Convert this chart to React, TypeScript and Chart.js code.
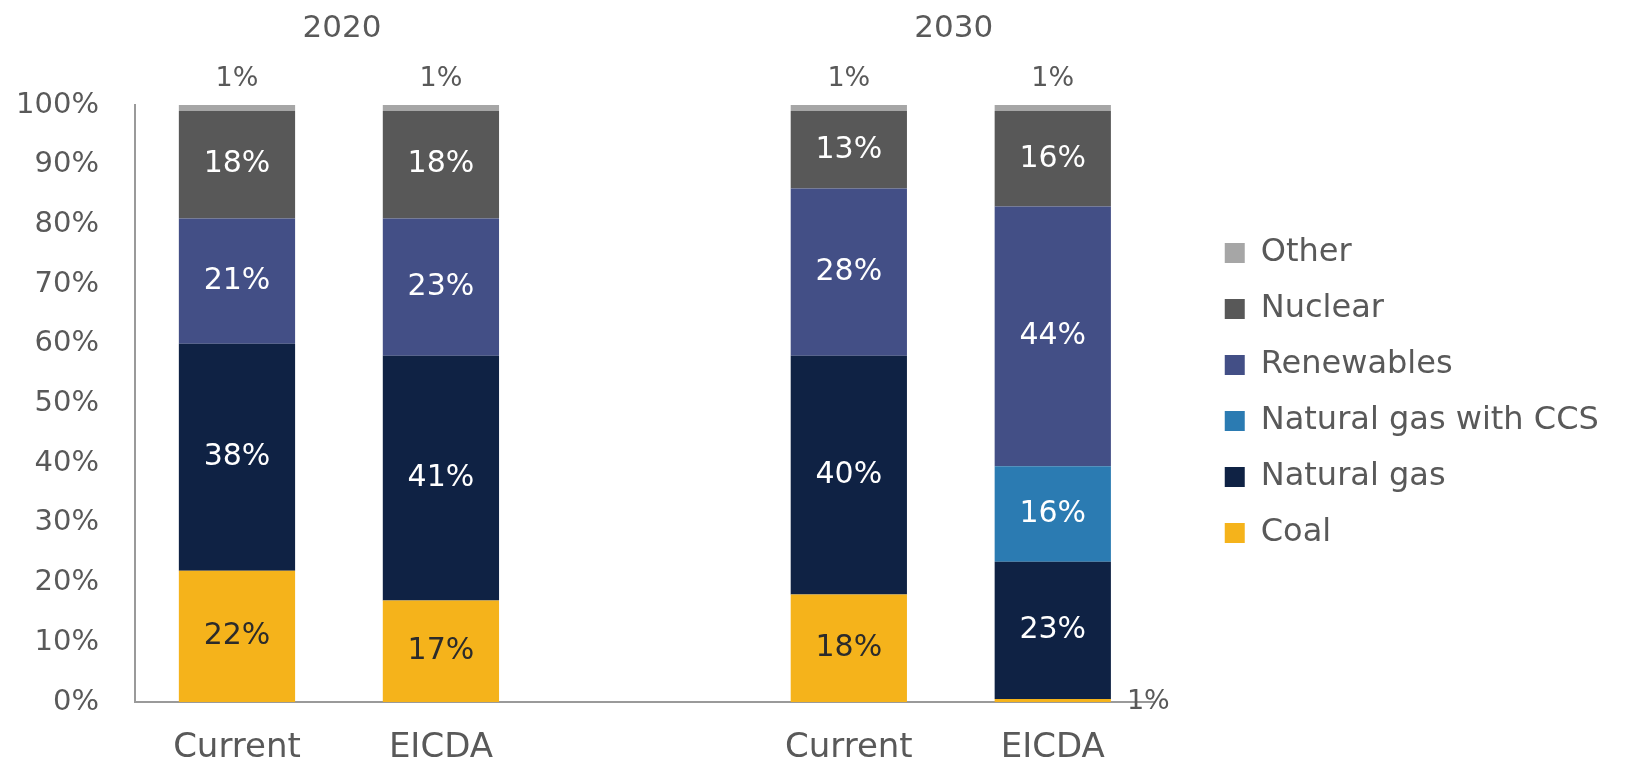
import React, { useEffect, useRef } from "react";
import { Chart, registerables } from "chart.js";

Chart.register(...registerables);

const categories = ["Current", "EICDA", "", "Current", "EICDA"];
const groupTitles = ["2020", "2030"];
const groupPairs = [[0, 1], [3, 4]];

const coal = [22, 17, null, 18, 0.5];
const naturalGas = [38, 41, null, 40, 23];
const gasCCS = [0, 0, null, 0, 16];
const renewables = [21, 23, null, 28, 43.5];
const nuclear = [18, 18, null, 13, 16];
const other = [1, 1, null, 1, 1];

const seriesNames = ["Coal", "Natural gas", "Natural gas with CCS", "Renewables", "Nuclear", "Other"];
const seriesColors = ["#f5b31b", "#0f2244", "#2b7bb2", "#434f86", "#585858", "#a6a6a6"];

const FONT = "'DejaVu Sans', sans-serif";
const GRAY = "#595959";

const labelPlugin = {
  id: "segLabels",
  afterDatasetsDraw(chart: any) {
    const ctx = chart.ctx;
    ctx.save();
    chart.data.datasets.forEach((ds: any, di: number) => {
      const meta = chart.getDatasetMeta(di);
      meta.data.forEach((bar: any, i: number) => {
        const v = ds.data[i];
        if (v == null || v <= 0) return;
        const txt = `${Math.round(v)}%`;
        const props = bar.getProps(["x", "y", "base", "width"], true);
        ctx.textBaseline = "middle";
        if (ds.label === "Other") {
          ctx.font = `27px ${FONT}`;
          ctx.fillStyle = GRAY;
          ctx.textAlign = "center";
          ctx.fillText(txt, props.x, props.y - 26);
        } else if (v < 3) {
          ctx.font = `27px ${FONT}`;
          ctx.fillStyle = GRAY;
          ctx.textAlign = "left";
          ctx.fillText(txt, props.x + props.width / 2 + 16, props.base);
        } else {
          ctx.font = `30px ${FONT}`;
          ctx.fillStyle = ds.label === "Coal" ? "#2b2b2b" : "#ffffff";
          ctx.textAlign = "center";
          ctx.fillText(txt, props.x, (props.y + props.base) / 2);
        }
      });
    });
    const xs = chart.scales.x;
    ctx.font = `31px ${FONT}`;
    ctx.fillStyle = GRAY;
    ctx.textAlign = "center";
    ctx.textBaseline = "middle";
    groupTitles.forEach((t, gi) => {
      const [a, b] = groupPairs[gi];
      const cx = (xs.getPixelForValue(a) + xs.getPixelForValue(b)) / 2;
      ctx.fillText(t, cx + 3, 29);
    });
    ctx.restore();
  },
};

export default function App() {
  const ref = useRef<HTMLCanvasElement>(null);
  useEffect(() => {
    document.body.style.margin = "0";
    document.body.style.overflow = "hidden";
    const series = [coal, naturalGas, gasCCS, renewables, nuclear, other];
    const chart = new Chart(ref.current as HTMLCanvasElement, {
      type: "bar",
      data: {
        labels: categories,
        datasets: series.map((d, i) => ({
          label: seriesNames[i],
          data: d,
          backgroundColor: seriesColors[i],
          borderWidth: 0,
          barPercentage: 0.57,
          categoryPercentage: 1,
        })),
      },
      options: {
        animation: false,
        responsive: false,
        layout: { padding: { top: 26, right: 29, bottom: 0, left: 0 } },
        plugins: {
          legend: {
            position: "right",
            reverse: true,
            labels: {
              boxWidth: 20,
              boxHeight: 20,
              padding: 24,
              color: GRAY,
              font: { family: FONT, size: 32 },
            },
          },
          tooltip: { enabled: false },
        },
        scales: {
          x: {
            stacked: true,
            grid: { display: false, drawTicks: false },
            border: { display: true, color: "#9a9a9a", width: 2 },
            ticks: { color: GRAY, font: { family: FONT, size: 34 }, padding: 26 },
            afterFit: (s: any) => { s.height = 58; },
          },
          xTop: {
            type: "category",
            position: "top",
            grid: { display: false, drawTicks: false },
            border: { display: false },
            ticks: { display: false },
            afterFit: (s: any) => { s.height = 79; },
          },
          y: {
            stacked: true,
            min: 0,
            max: 100,
            grid: { display: false, drawTicks: false },
            border: { display: true, color: "#9a9a9a", width: 2 },
            ticks: {
              stepSize: 10,
              color: GRAY,
              padding: 36,
              font: { family: FONT, size: 29 },
              callback: (v: any) => `${v}%`,
            },
            afterFit: (s: any) => { s.width = 135; },
          },
          gapR: {
            type: "linear",
            axis: "y",
            position: "right",
            display: false,
            afterFit: (s: any) => { s.width = 46; },
          },
        },
      } as any,
      plugins: [labelPlugin],
    });
    return () => chart.destroy();
  }, []);
  return (
    <div style={{ width: 1630, height: 760 }}>
      <canvas ref={ref} width={1630} height={760} />
    </div>
  );
}
